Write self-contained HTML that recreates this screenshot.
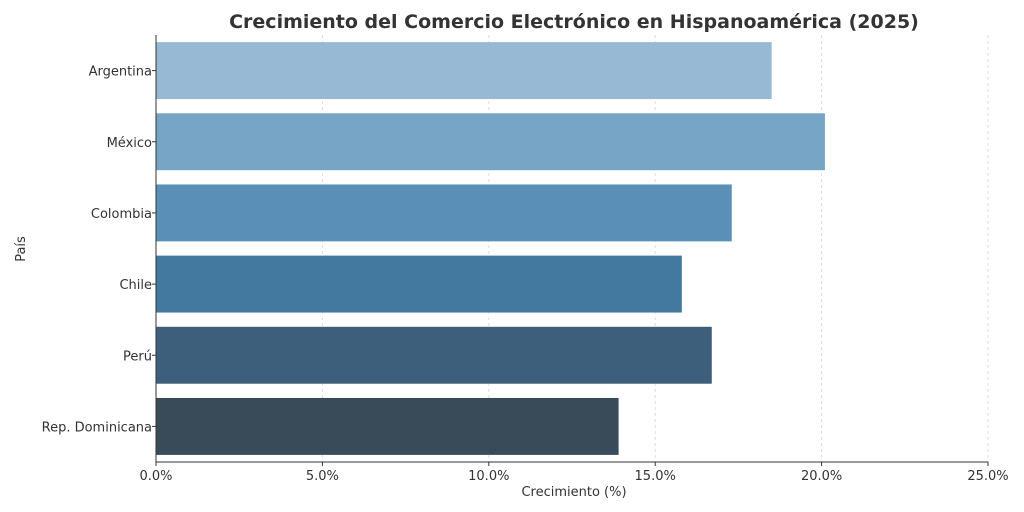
<!DOCTYPE html>
<html><head><meta charset="utf-8"><style>
body{margin:0;background:#fff;}
svg{display:block;font-family:"DejaVu Sans","Liberation Sans",sans-serif;}
</style></head><body>
<svg id="chart" width="1024" height="512">
<text x="574" y="28" text-anchor="middle" font-size="19" font-weight="bold" fill="#333">Crecimiento del Comercio Electrónico en Hispanoamérica (2025)</text>
<g id="grid"></g><g id="bars"></g><g id="yticks"></g><g id="xticks"></g>
<line x1="156" y1="35" x2="156" y2="462" stroke="#333" stroke-width="1"/>
<line x1="156" y1="462" x2="988" y2="462" stroke="#333" stroke-width="1"/>
<text x="574" y="496" text-anchor="middle" font-size="13" fill="#333">Crecimiento (%)</text>
<text transform="translate(25,249) rotate(-90)" text-anchor="middle" font-size="13" fill="#333">País</text>
</svg>
<script>
const categories=["Argentina","México","Colombia","Chile","Perú","Rep. Dominicana"];
const values=[18.5,20.1,17.3,15.8,16.7,13.9];
const xTicks=[0,5,10,15,20,25];
const xTickLabels=["0.0%","5.0%","10.0%","15.0%","20.0%","25.0%"];
const colors=["#97b9d3","#77a5c5","#5a90b7","#44799f","#3e5f7b","#394a59"];
const NS="http://www.w3.org/2000/svg";
const x0=156,x1=988,yTop=35,yBot=462;
const xScale=v=>x0+(v/25)*(x1-x0);
const band=(yBot-yTop)/categories.length;
const yScale=i=>yTop+band*i;
function mk(t,a){const e=document.createElementNS(NS,t);for(const k in a)e.setAttribute(k,a[k]);return e;}
const grid=document.getElementById('grid'),bars=document.getElementById('bars'),yt=document.getElementById('yticks'),xt=document.getElementById('xticks');
xTicks.forEach((v,i)=>{
 const x=xScale(v);
 const g=mk('line',{x1:x,x2:x,y1:yTop,y2:yBot,stroke:'#ddd','stroke-dasharray':'3,3'});
 
 
 grid.appendChild(g);
 const tk=mk('line',{x1:x,x2:x,y1:yBot,y2:yBot+4,stroke:'#333'});
 
 
 xt.appendChild(tk);
 const t=mk('text',{x:x,y:yBot+18,'text-anchor':'middle','font-size':13,fill:'#333'});
 t.textContent=xTickLabels[i];
 
 
 xt.appendChild(t);
});
categories.forEach((c,i)=>{
 const yc=yScale(i)+band/2,h=band*0.8;
 const r=mk('rect',{x:x0,y:yc-h/2,width:xScale(values[i])-x0,height:h,fill:colors[i]});
 
 
 bars.appendChild(r);
 const tk=mk('line',{x1:x0-4,x2:x0,y1:yc,y2:yc,stroke:'#333'});
 
 
 yt.appendChild(tk);
 const t=mk('text',{x:x0-4,y:yc+5,'text-anchor':'end','font-size':13,fill:'#333'});
 t.textContent=c;
 
 
 yt.appendChild(t);
});
</script>
</body></html>
